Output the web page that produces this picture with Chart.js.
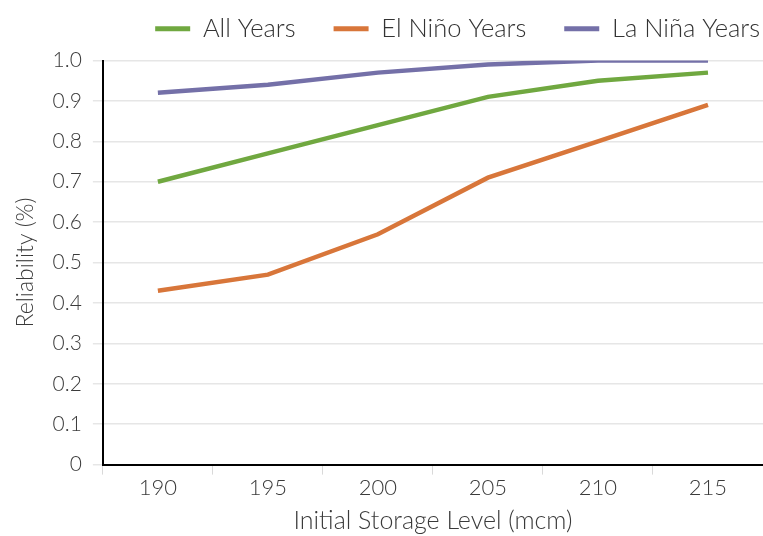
<!DOCTYPE html>
<html>
<head>
<meta charset="utf-8">
<script src="https://cdn.jsdelivr.net/npm/chart.js@4.4.1/dist/chart.umd.min.js"></script>
<style>
  html, body { margin: 0; padding: 0; background: #fff; }
  #wrap { width: 763px; height: 536px; }
</style>
</head>
<body>
<div id="wrap"><canvas id="myChart" width="763" height="536"></canvas></div>
<script>
const niveles = ["190", "195", "200", "205", "210", "215"];
const todosAnios = [0.70, 0.77, 0.84, 0.91, 0.95, 0.97];
const aniosNino = [0.43, 0.47, 0.57, 0.71, 0.80, 0.89];
const aniosNina = [0.92, 0.94, 0.97, 0.99, 1.00, 1.00];
const etiquetasY = ["0", "0.1", "0.2", "0.3", "0.4", "0.5", "0.6", "0.7", "0.8", "0.9", "1.0"];

const fuente = "Lato, 'Open Sans', sans-serif";
Chart.defaults.font.family = fuente;
Chart.defaults.font.weight = 300;
Chart.defaults.color = "#3a3a3a";

// mueve la leyenda hacia la esquina superior derecha como en la figura original
const moverLeyenda = {
  id: "moverLeyenda",
  afterLayout(chart) {
    chart.legend.left += 35;
    chart.legend.right += 35;
    chart.legend.top -= 9;
    chart.legend.bottom -= 9;
  }
};

const ctx = document.getElementById("myChart");
const myChart = new Chart(ctx, {
  type: "line",
  data: {
    labels: niveles,
    datasets: [
      { label: "All Years", data: todosAnios, borderColor: "#70a840", backgroundColor: "#70a840" },
      { label: "El Niño Years", data: aniosNino, borderColor: "#d8763a", backgroundColor: "#d8763a" },
      { label: "La Niña Years", data: aniosNina, borderColor: "#7470a8", backgroundColor: "#7470a8" }
    ]
  },
  plugins: [moverLeyenda],
  options: {
    responsive: false,
    animation: false,
    layout: { autoPadding: false, padding: { top: -13, right: 0, left: 12, bottom: -4 } },
    elements: {
      line: { borderWidth: 4.5, tension: 0 },
      point: { radius: 0 }
    },
    plugins: {
      legend: {
        position: "top",
        align: "end",
        labels: {
          boxWidth: 35,
          boxHeight: 5,
          padding: 38,
          font: { size: 25.5, weight: 300 },
          color: "#333",
          generateLabels: (chart) =>
            Chart.defaults.plugins.legend.labels.generateLabels(chart).map(l => ({ ...l, lineWidth: 0 }))
        }
      },
      tooltip: { enabled: false }
    },
    scales: {
      x: {
        offset: true,
        grid: { offset: true, drawOnChartArea: false, color: "#d9d9d9", tickLength: 10 },
        border: { color: "#000", width: 2 },
        ticks: { font: { size: 22 }, padding: 0 },
        title: { display: true, text: "Initial Storage Level (mcm)", font: { size: 25 }, padding: { top: 5 } }
      },
      y: {
        min: 0,
        max: 1,
        ticks: {
          stepSize: 0.1,
          font: { size: 21 },
          padding: 11,
          callback: (v, i) => etiquetasY[i]
        },
        grid: { color: "#e6e6e6", lineWidth: 1.5, tickLength: 10 },
        border: { color: "#000", width: 2 },
        title: { display: true, text: "Reliability (%)", font: { size: 23 }, padding: { top: 0, bottom: 2 } }
      }
    }
  }
});
</script>
</body>
</html>
